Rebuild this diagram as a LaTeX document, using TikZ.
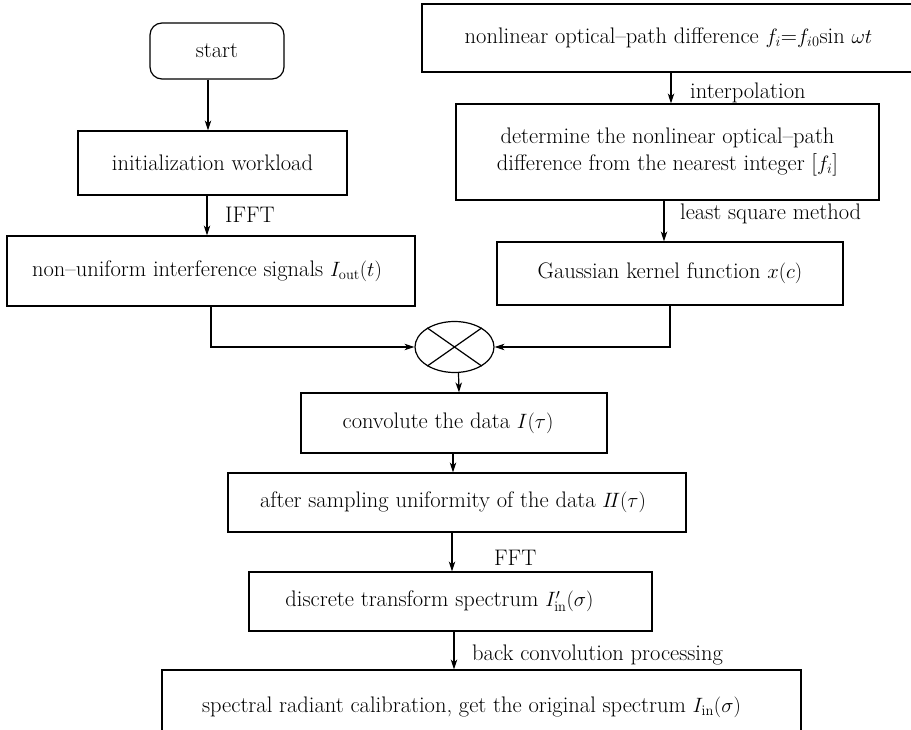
\documentclass[tikz,border=0pt]{standalone}
\usetikzlibrary{arrows.meta,shapes.geometric,calc}
\begin{document}
\begin{tikzpicture}[x=1pt,y=-1pt,
  txt/.style={font=\fontsize{22.5}{27}\selectfont},
  box/.style={txt,draw,line width=1.2pt,rectangle,inner sep=0pt,align=center},
  lab/.style={txt,anchor=west,inner sep=0pt},
  arr/.style={line width=1.2pt,-{Stealth[length=10pt,width=6.5pt,inset=3pt]}},
  ln/.style={line width=1.2pt}
]
\useasboundingbox (0,0) rectangle (911,730);
% left column
\node[box,rounded corners=12pt,minimum width=134pt,minimum height=56pt] (start) at (217,51) {start};
\node[box,minimum width=269pt,minimum height=64pt] (init) at (212.5,163) {initialization workload};
\node[box,minimum width=408pt,minimum height=70pt] (nonu) at (211,271) {\hspace*{-8pt}non--uniform interference signals $I_{\mathrm{out}}(t)$};
% right column
\node[box,minimum width=493pt,minimum height=68pt] (top) at (668.5,38) {nonlinear optical--path difference $f_i$=$f_{i0}$sin $\omega t$};
\node[box,minimum width=423pt,minimum height=96pt] (det) at (667.5,152) {determine the nonlinear optical--path\\difference from the nearest integer [$f_i$]};
\node[box,minimum width=346pt,minimum height=63pt] (gauss) at (670,273.5) {Gaussian kernel function $x(c)$};
% multiplier
\node[ellipse,draw,line width=1.2pt,minimum width=79pt,minimum height=51pt,inner sep=0pt] (mul) at (454.5,347) {};
\draw[ln] (mul.145) -- (mul.-35);
\draw[ln] (mul.35) -- (mul.-145);
% lower column
\node[box,minimum width=306pt,minimum height=60pt] (conv) at (454,423) {\hspace*{-12pt}convolute the data $I(\tau)$};
\node[box,minimum width=458pt,minimum height=59pt] (after) at (457,502.5) {\hspace*{-8pt}after sampling uniformity of the data $I\!I(\tau)$};
\node[box,minimum width=403pt,minimum height=59pt] (disc) at (450.5,601.5) {\hspace*{-22pt}discrete transform spectrum $I'_{\mathrm{in}}(\sigma)$};
\node[box,minimum width=639pt,minimum height=74pt] (final) at (481.5,707) {\hspace*{-20pt}spectral radiant calibration, get the original spectrum $I_{\mathrm{in}}(\sigma)$};
% connectors
\draw[arr] ([xshift=-9pt]start.south) -- ([xshift=-4.5pt]init.north);
\draw[arr] ([xshift=-5.5pt]init.south) -- ([xshift=-4pt]nonu.north);
\node[lab] (lifft) at (225,215) {IFFT};
\draw[arr] ([xshift=2.5pt]top.south) -- ([xshift=3.5pt]det.north);
\node[lab] (linterp) at (690,93) {interpolation};
\draw[arr] ([xshift=-3.5pt]det.south) -- ([xshift=-6pt]gauss.north);
\node[lab] (llsq) at (680,214) {least square method};
\draw[arr] (nonu.south) |- (mul.west);
\draw[arr] (gauss.south) |- (mul.east);
\draw[arr] ([xshift=4pt]mul.south) -- ([xshift=5pt]conv.north);
\draw[arr] ([xshift=-1pt]conv.south) -- ([xshift=-4pt]after.north);
\draw[arr] ([xshift=-5pt]after.south) -- ([xshift=1.5pt]disc.north);
\node[lab] (lfft) at (494,558) {FFT};
\draw[arr] ([xshift=3.5pt]disc.south) -- ([xshift=-27.5pt]final.north);
\node[lab] (lback) at (472,655) {back convolution processing};
\end{tikzpicture}
\end{document}
